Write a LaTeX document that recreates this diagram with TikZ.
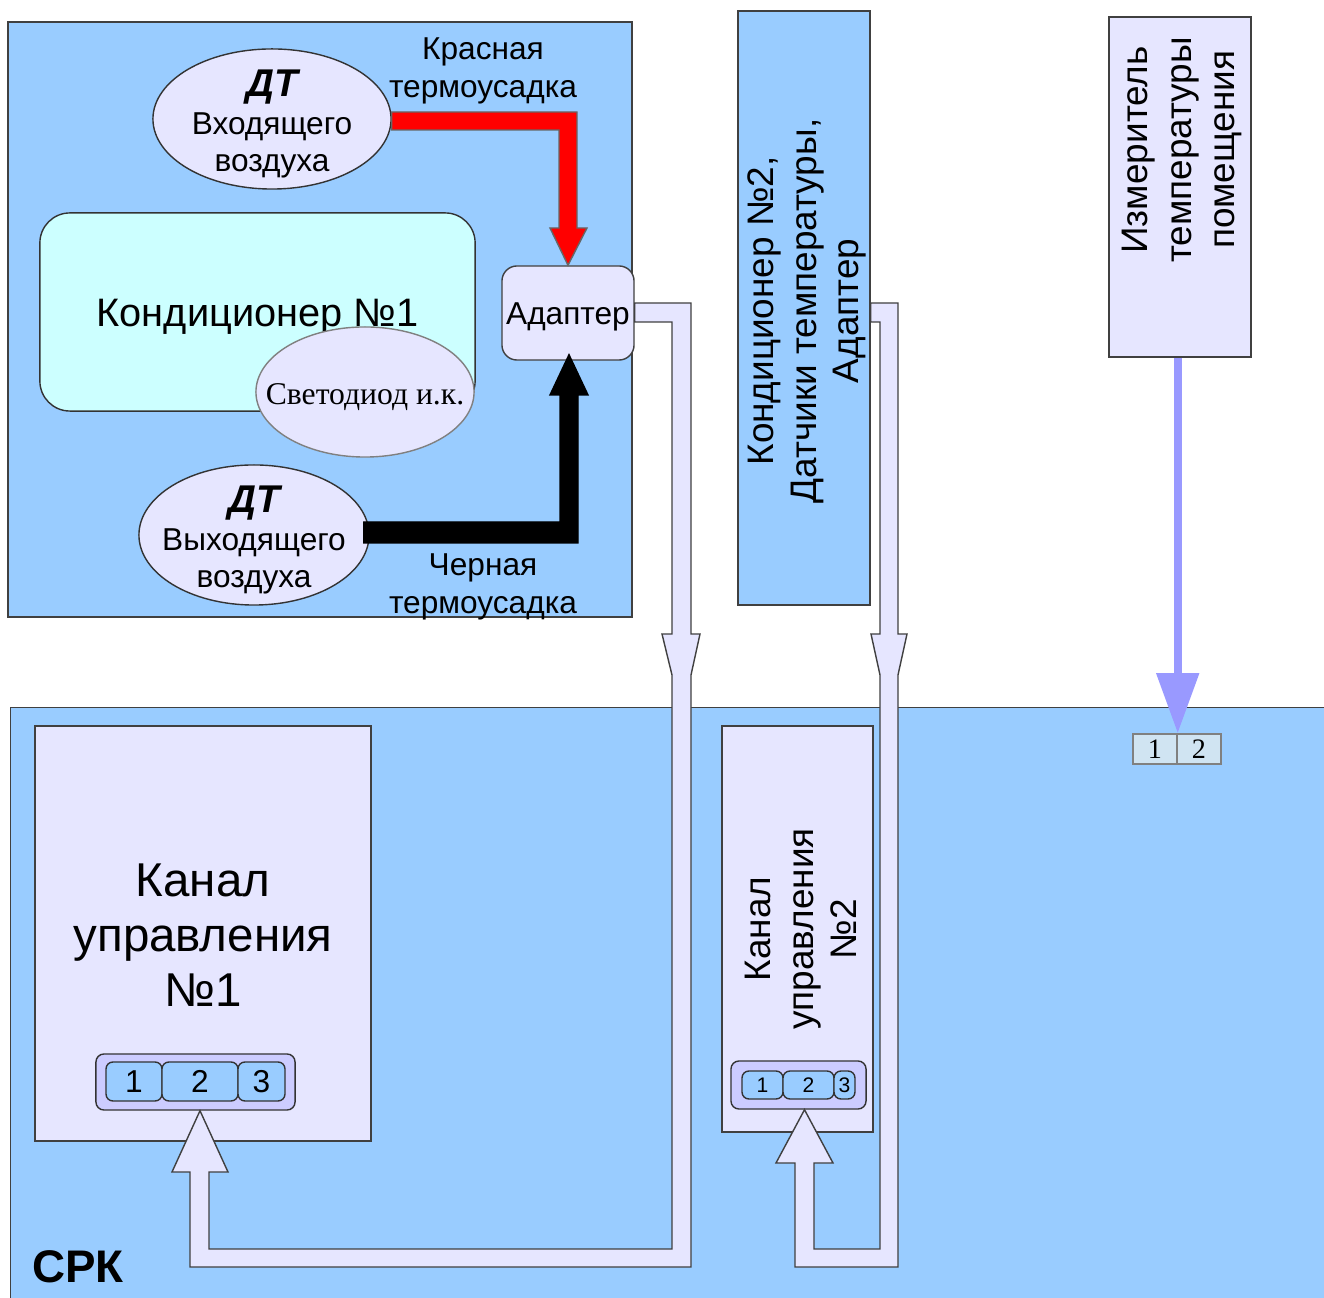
\documentclass[tikz,border=0pt]{standalone}
\usepackage{fontspec}
\setmainfont{Liberation Sans}
\newfontfamily\serifcyr{Liberation Serif}
\usetikzlibrary{shapes.geometric, calc, arrows.meta}

\definecolor{skyfill}{HTML}{99CCFF}
\definecolor{cyanfill}{HTML}{CCFFFF}
\definecolor{lavfill}{HTML}{E6E6FF}
\definecolor{plugfill}{HTML}{CCCCFF}
\definecolor{meterblue}{HTML}{9999FF}
\definecolor{termfill}{HTML}{D0E4F2}
\definecolor{edgegray}{HTML}{404040}

\begin{document}
\begin{tikzpicture}[x=0.01cm, y=-0.01cm,
                            panel/.style={rectangle, draw=edgegray, fill=skyfill, inner sep=0pt},
                            card/.style={rectangle, draw=edgegray, fill=lavfill, inner sep=0pt},
                            sensor/.style={ellipse, draw=black!80, fill=lavfill, inner sep=0pt},
                            cell/.style={rectangle, rounded corners=0.07cm, draw=black!80, fill=skyfill, inner sep=0pt},
                            plug/.style={rectangle, rounded corners=0.08cm, draw=black!80, fill=plugfill, inner sep=0pt},
                            term/.style={rectangle, draw=gray, fill=termfill, inner sep=0pt, minimum width=0.44cm, minimum height=0.30cm, font=\serifcyr\fontsize{8}{8}\selectfont},
                            hollow/.style={draw=edgegray, fill=lavfill, line join=miter},
                            txt/.style={inner sep=0pt, align=center},
                            small/.style={txt, font=\fontsize{9}{10.8}\selectfont}]
                            \useasboundingbox (0,0) rectangle (1324,1298);

                            \node (top)[panel, minimum width=6.24cm, minimum height=5.95cm] at (320,319.5) {};
                            \node (cond1)[rectangle, rounded corners=0.3cm, draw=black!80, fill=cyanfill, minimum width=4.35cm, minimum height=1.98cm, label={[txt, font=\fontsize{11.3}{13}\selectfont, yshift=-0.05cm]center:Кондиционер №1}] at (257.5,312) {};
                            \node (led)[ellipse, draw=gray, fill=lavfill, minimum width=2.18cm, minimum height=1.30cm, inner sep=0pt, label={[txt, font=\serifcyr\fontsize{9}{10}\selectfont, yshift=-0.05cm]center:Светодиод и.к.}] at (365,392) {};
                            \node (dtin)[sensor, minimum width=2.38cm, minimum height=1.40cm, label={[small, yshift=-0.05cm]center:{{\fontsize{11}{13}\selectfont\bfseries\itshape ДТ}\\Входящего\\воздуха}}] at (272,119) {};
                            \node (dtout)[sensor, minimum width=2.30cm, minimum height=1.40cm, label={[small, yshift=-0.05cm]center:{{\fontsize{11}{13}\selectfont\bfseries\itshape ДТ}\\Выходящего\\воздуха}}] at (254,535) {};
                            \node (adapter)[rectangle, rounded corners=0.15cm, draw=edgegray, fill=lavfill, minimum width=1.32cm, minimum height=0.94cm, inner sep=0pt, label={[small, yshift=-0.04cm]center:Адаптер}] at (568,313) {};

                            \draw [draw=black!60, fill=red] (dtin.east |- 0,112) -- (577,112) -- (577,228) -- (587,228) -- (adapter.north) -- (550,228) -- (559,228) -- (559,130) -- (dtin.east |- 0,130) -- cycle;
                            \draw [draw=black, fill=black] ($(dtout.east)+(-6,-13)$) -- (560,522) -- (560,395) -- (550,395) -- ($(adapter.south)+(1,-6)$) -- (588,395) -- (578,395) -- (578,543) -- ($(dtout.east)+(-6,8)$) -- cycle;

                            \node (redcap)[small] at (483,70.5) {Красная\\термоусадка};
                            \node (blackcap)[small] at (483,587) {Черная\\термоусадка};

                            \node (cond2)[panel, minimum width=1.32cm, minimum height=5.94cm] at (804,308) {};
                            \node (cond2txt)[txt, rotate=90, font=\fontsize{10.5}{12.2}\selectfont] at (807,311) {Кондиционер №2,\\Датчики температуры,\\Адаптер};

                            \node (meter)[card, minimum width=1.42cm, minimum height=3.40cm] at (1180,187) {};
                            \node (metertxt)[txt, rotate=90, font=\fontsize{10.5}{12.5}\selectfont] at (1182,150) {Измеритель\\температуры\\помещения};

                            \node (srk)[panel, minimum width=13.4cm, minimum height=6.0cm, anchor=north west] at (10,707) {};
                            \node (srklabel)[txt, font=\fontsize{13}{15}\selectfont\bfseries] at (78,1267) {СРК};

                            \node (ch1)[card, minimum width=3.36cm, minimum height=4.15cm, label={[txt, font=\fontsize{13.5}{15.6}\selectfont, yshift=-0.02cm]center:{Канал\\управления\\№1}}] at (203,933.5) {};
                            \node (ch1plug)[plug, minimum width=1.99cm, minimum height=0.56cm] at (195.5,1082) {};
                            \node (c11)[cell, minimum width=0.56cm, minimum height=0.39cm, font=\fontsize{9}{9}\selectfont] at (134,1081.5) {1};
                            \node (c12)[cell, minimum width=0.76cm, minimum height=0.39cm, font=\fontsize{9}{9}\selectfont] at (200,1081.5) {2};
                            \node (c13)[cell, minimum width=0.47cm, minimum height=0.39cm, font=\fontsize{9}{9}\selectfont] at (261.5,1081.5) {3};

                            \node (ch2)[card, minimum width=1.51cm, minimum height=4.06cm] at (797.5,929) {};
                            \node (ch2txt)[txt, rotate=90, font=\fontsize{10.5}{12.2}\selectfont] at (801,929) {Канал\\управления\\№2};
                            \node (ch2plug)[plug, minimum width=1.35cm, minimum height=0.48cm] at (798.5,1085) {};
                            \node (c21)[cell, minimum width=0.41cm, minimum height=0.28cm, font=\fontsize{6}{6}\selectfont] at (762.5,1085) {1};
                            \node (c22)[cell, minimum width=0.51cm, minimum height=0.28cm, font=\fontsize{6}{6}\selectfont] at (808.5,1085) {2};
                            \node (c23)[cell, minimum width=0.21cm, minimum height=0.28cm, font=\fontsize{6}{6}\selectfont] at (844.5,1085) {3};

                            \node (t1)[term] at (1155,749) {1};
                            \node (t2)[term] at (1199,749) {2};

                            \draw [hollow] ($(adapter.east)+(0,-10)$) -- (691,303) -- (691,634) -- (700,634) -- (691,675) -- (691,1267) -- (190,1267) -- (190,1172) -- (172,1172) -- (c12.south |- ch1plug.south) -- (228,1172) -- (209,1172) -- (209,1249) -- (672,1249) -- (672,675) -- (662,634) -- (672,634) -- (672,322) -- ($(adapter.east)+(0,9)$) -- cycle;
                            \draw [hollow] ($(cond2.east)+(0,-5)$) -- (898,303) -- (898,634) -- (907,634) -- (898,675) -- (898,1267) -- (795,1267) -- (795,1163) -- (776,1163) -- ($(ch2plug.south)+(6,0)$) -- (833,1163) -- (814,1163) -- (814,1249) -- (880,1249) -- (880,675) -- (871,634) -- (880,634) -- (880,322) -- ($(cond2.east)+(0,14)$) -- cycle;

                            \draw [draw=meterblue, line width=0.08cm, -{Triangle[width=0.41cm, length=0.6cm]}] (t1.north east |- meter.south) -- (t1.north east);
                        \end{tikzpicture}
\end{document}
